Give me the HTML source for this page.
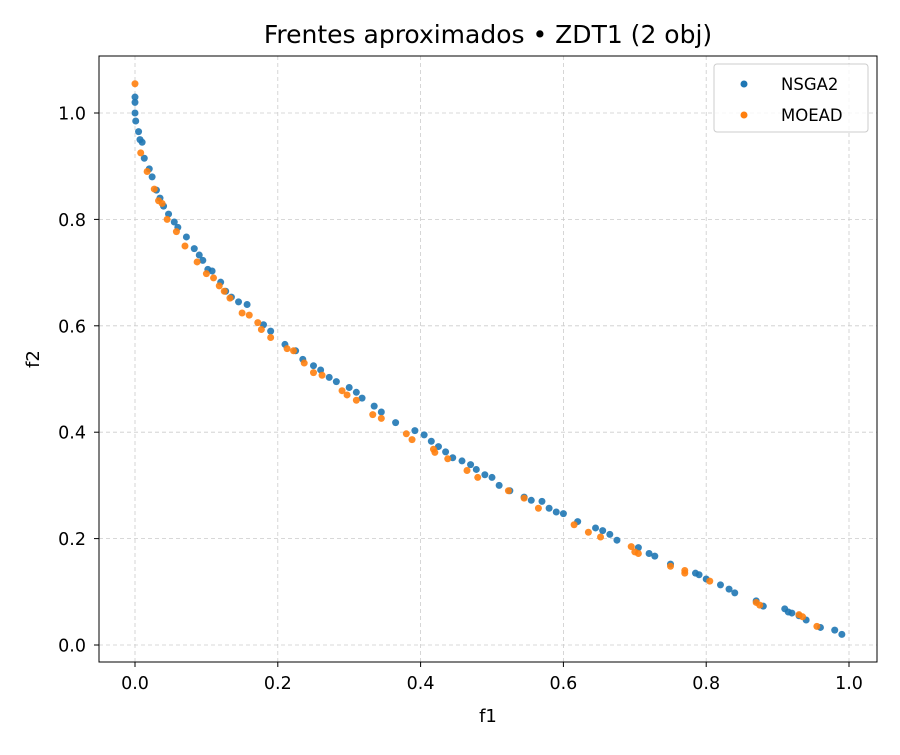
<!DOCTYPE html>
<html><head><meta charset="utf-8"><style>
body{margin:0;background:#fff;}
svg text{font-family:"DejaVu Sans","Liberation Sans",sans-serif;fill:#000;}
</style></head><body>
<svg id="chart" width="900" height="750" xmlns="http://www.w3.org/2000/svg">
<rect width="900" height="750" fill="#fff"/>
<text x="488" y="43" font-size="25" text-anchor="middle">Frentes aproximados • ZDT1 (2 obj)</text>
<g id="grid"></g><g id="ticks"></g><g id="pts"></g>
<rect x="99" y="56" width="778" height="606" fill="none" stroke="#000" stroke-width="1"/>
<text x="488" y="722" font-size="18" text-anchor="middle">f1</text>
<text x="39" y="359" font-size="18" text-anchor="middle" transform="rotate(-90 39 359)">f2</text>
<g>
<rect x="714" y="64" width="154" height="68" rx="3" fill="#fff" fill-opacity="0.8" stroke="#ccc"/>
<g><circle cx="744" cy="84" r="3.5" fill="#1f77b4"/><text x="781" y="90" font-size="16.5">NSGA2</text></g>
<g><circle cx="744" cy="115" r="3.5" fill="#ff7f0e"/><text x="781" y="121" font-size="16.5">MOEAD</text></g>
</g>
</svg>
<script>
const xTicks=[0,0.2,0.4,0.6,0.8,1.0];
const yTicks=[0,0.2,0.4,0.6,0.8,1.0];
const nsgaF1=[0,0,0,0.001,0.005,0.007,0.01,0.013,0.02,0.024,0.03,0.035,0.04,0.047,0.055,0.06,0.072,0.083,0.09,0.095,0.102,0.108,0.12,0.127,0.135,0.145,0.157,0.18,0.19,0.21,0.225,0.235,0.25,0.26,0.272,0.282,0.3,0.31,0.318,0.335,0.345,0.365,0.392,0.405,0.415,0.425,0.435,0.445,0.458,0.47,0.478,0.49,0.5,0.51,0.525,0.545,0.555,0.57,0.58,0.59,0.6,0.62,0.645,0.655,0.665,0.675,0.705,0.72,0.728,0.75,0.785,0.79,0.8,0.82,0.832,0.84,0.87,0.88,0.91,0.915,0.92,0.93,0.94,0.96,0.98,0.99];
const nsgaF2=[1.03,1.02,1.0,0.985,0.965,0.95,0.945,0.915,0.895,0.88,0.855,0.84,0.825,0.81,0.795,0.785,0.767,0.745,0.733,0.723,0.706,0.703,0.682,0.665,0.654,0.645,0.64,0.602,0.59,0.565,0.553,0.537,0.525,0.517,0.503,0.495,0.484,0.475,0.464,0.449,0.438,0.418,0.403,0.395,0.383,0.373,0.363,0.352,0.346,0.339,0.33,0.32,0.315,0.3,0.29,0.278,0.272,0.27,0.257,0.25,0.247,0.232,0.22,0.215,0.208,0.197,0.183,0.172,0.167,0.152,0.135,0.132,0.124,0.113,0.105,0.098,0.083,0.073,0.068,0.062,0.06,0.055,0.047,0.033,0.028,0.02];
const moeadF1=[0,0.008,0.017,0.027,0.033,0.038,0.045,0.058,0.07,0.087,0.1,0.11,0.118,0.125,0.133,0.15,0.16,0.172,0.177,0.19,0.213,0.222,0.237,0.25,0.262,0.29,0.297,0.31,0.333,0.345,0.38,0.388,0.42,0.418,0.438,0.465,0.48,0.523,0.545,0.565,0.615,0.635,0.652,0.695,0.7,0.705,0.75,0.77,0.77,0.805,0.87,0.875,0.93,0.935,0.955];
const moeadF2=[1.055,0.925,0.89,0.857,0.835,0.83,0.8,0.777,0.75,0.72,0.698,0.69,0.675,0.665,0.652,0.624,0.62,0.606,0.593,0.578,0.557,0.553,0.53,0.512,0.507,0.478,0.47,0.46,0.433,0.426,0.397,0.386,0.362,0.368,0.35,0.328,0.315,0.29,0.276,0.257,0.226,0.212,0.203,0.185,0.175,0.172,0.148,0.14,0.135,0.12,0.08,0.075,0.057,0.053,0.035];
const NS="http://www.w3.org/2000/svg";
function sx(v){return 135+v*714;}
function sy(v){return 645-v*532;}
function mk(t,a,p){const e=document.createElementNS(NS,t);for(const k in a)e.setAttribute(k,a[k]);p.appendChild(e);return e;}
const grid=document.getElementById('grid'),ticks=document.getElementById('ticks'),pts=document.getElementById('pts');
xTicks.forEach(v=>{
 const g=mk('line',{x1:sx(v),x2:sx(v),y1:56,y2:662,stroke:'#ccc','stroke-dasharray':'4,3','stroke-width':0.8},grid);
 
 
 mk('line',{x1:sx(v),x2:sx(v),y1:662,y2:667,stroke:'#000'},ticks);
 const t=mk('text',{x:sx(v),y:689,'font-size':17.5,'text-anchor':'middle'},ticks);t.textContent=v.toFixed(1);
 
 
});
yTicks.forEach(v=>{
 const g=mk('line',{x1:99,x2:877,y1:sy(v),y2:sy(v),stroke:'#ccc','stroke-dasharray':'4,3','stroke-width':0.8},grid);
 
 
 mk('line',{x1:94,x2:99,y1:sy(v),y2:sy(v),stroke:'#000'},ticks);
 const t=mk('text',{x:86,y:sy(v)+6.5,'font-size':17.5,'text-anchor':'end'},ticks);t.textContent=v.toFixed(1);
 
 
});
nsgaF1.forEach((v,i)=>{
 const c=mk('circle',{cx:sx(v),cy:sy(nsgaF2[i]),r:3.5,fill:'#1f77b4','fill-opacity':0.9},pts);
 
 
});
moeadF1.forEach((v,i)=>{
 const c=mk('circle',{cx:sx(v),cy:sy(moeadF2[i]),r:3.5,fill:'#ff7f0e','fill-opacity':0.9},pts);
 
 
});
</script>
</body></html>
